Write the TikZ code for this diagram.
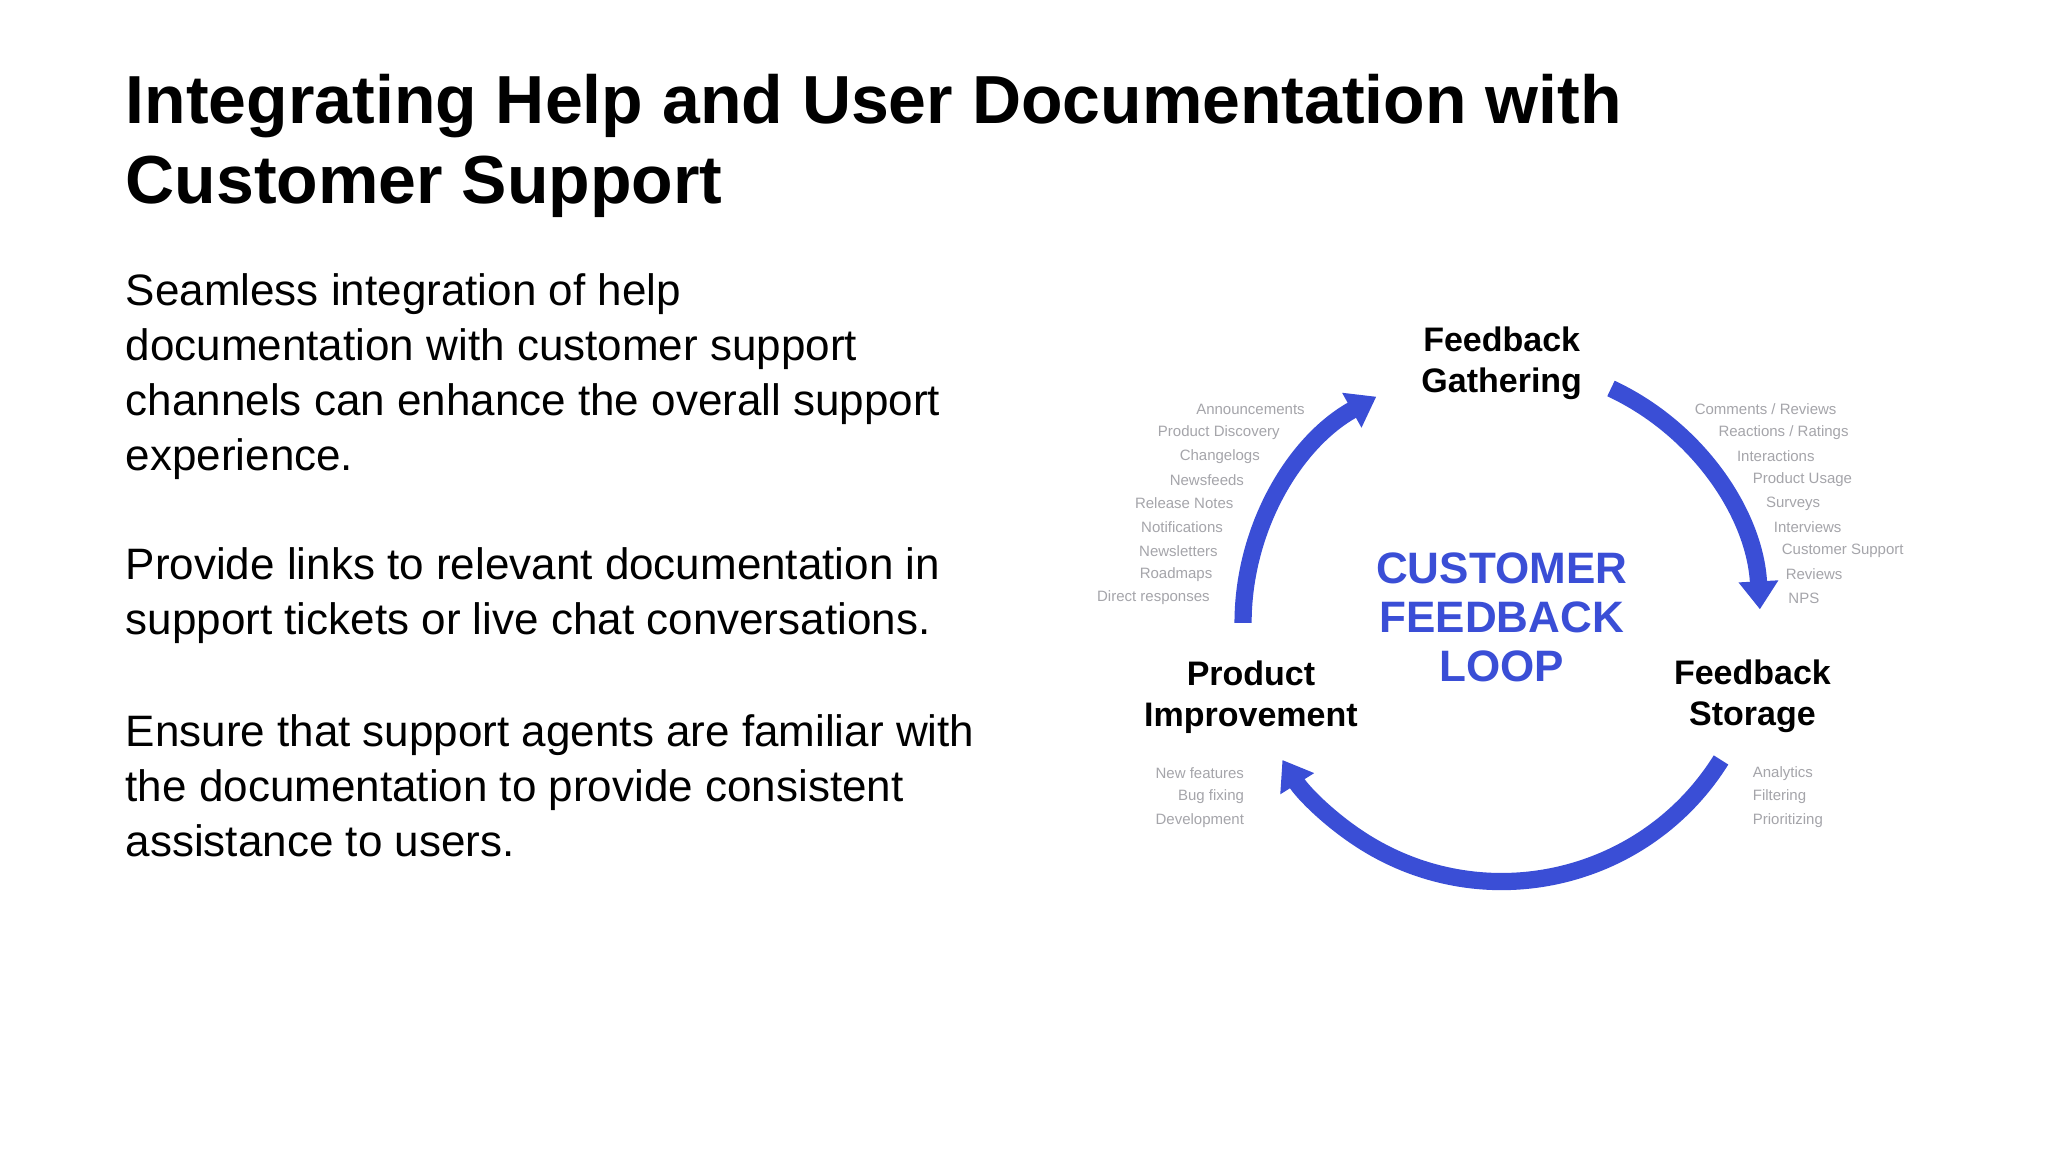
\documentclass[tikz,border=0pt]{standalone}
\usepackage{fontspec}
\setmainfont{Liberation Sans}
\usetikzlibrary{arrows.meta}
\definecolor{loopblue}{RGB}{58,78,214}
\definecolor{lightgray}{RGB}{165,165,170}
\tikzset{
 body/.style={anchor=north west,align=left,font=\fontsize{22}{27.5}\selectfont,inner sep=0pt},
 stage/.style={align=center,font=\fontsize{17}{20.5}\selectfont\bfseries,inner sep=0pt},
 tiny/.style={text=lightgray,font=\fontsize{7.5}{8}\selectfont,inner sep=0pt},
 looparrow/.style={draw=loopblue,line width=8.6pt,-{Triangle[width=19pt,length=14pt]}}
}
\begin{document}
\begin{tikzpicture}[x=0.6598pt,y=-0.6598pt]
\useasboundingbox[fill=white] (0,0) rectangle (1552,873);
\node[anchor=north west,inner sep=0pt,font=\fontsize{34}{40}\selectfont\bfseries,align=left] (title) at (95,56)
 {Integrating Help and User Documentation with\\Customer Support};
\node[body] (p1) at (95,207) {Seamless integration of help\\documentation with customer support\\channels can enhance the overall support\\experience.};
\node[body] (p2) at (95,415) {Provide links to relevant documentation in\\support tickets or live chat conversations.};
\node[body] (p3) at (95,541) {Ensure that support agents are familiar with\\the documentation to provide consistent\\assistance to users.};
% loop
\coordinate (c) at (1138,472);
\coordinate (la) at (942,472);
\coordinate (ra) at (1220.8,294.4);
\coordinate (ba) at (1304.2,575.9);
\draw[looparrow] (la) arc[start angle=180,end angle=119,radius=129.3pt];
\draw[looparrow] (ra) arc[start angle=65,end angle=3,radius=129.3pt];
\draw[looparrow] (ba) arc[start angle=-32,end angle=-148,radius=129.3pt];
\node[stage] (fg) at (1138,275) {Feedback\\Gathering};
\node[stage] (pi) at (948,528) {Product\\Improvement};
\node[stage] (fs) at (1328,528) {Feedback\\Storage};
\node[align=center,text=loopblue,inner sep=0pt,font=\fontsize{22}{24.5}\selectfont\bfseries] (cfl) at (1138,468) {CUSTOMER\\FEEDBACK\\LOOP};
% lists
\foreach \t/\x [count=\i from 0] in {Announcements/989,Product Discovery/970,Changelogs/955,Newsfeeds/943,Release Notes/935,Notifications/927,Newsletters/923,Roadmaps/919,Direct responses/917}
 \node[tiny,anchor=east] (l\i) at (\x,310+17.9*\i) {\t};
\foreach \t/\x [count=\i from 0] in {{Comments / Reviews}/1284,{Reactions / Ratings}/1302,Interactions/1316,Product Usage/1328,Surveys/1338,Interviews/1344,Customer Support/1350,Reviews/1353,NPS/1355}
 \node[tiny,anchor=west] (r\i) at (\x,310+17.9*\i) {\t};
\foreach \t [count=\i from 0] in {New features,Bug fixing,Development}
 \node[tiny,anchor=east] (bl\i) at (943,586+18*\i) {\t};
\foreach \t [count=\i from 0] in {Analytics,Filtering,Prioritizing}
 \node[tiny,anchor=west] (br\i) at (1328,586+18*\i) {\t};
\end{tikzpicture}
\end{document}
